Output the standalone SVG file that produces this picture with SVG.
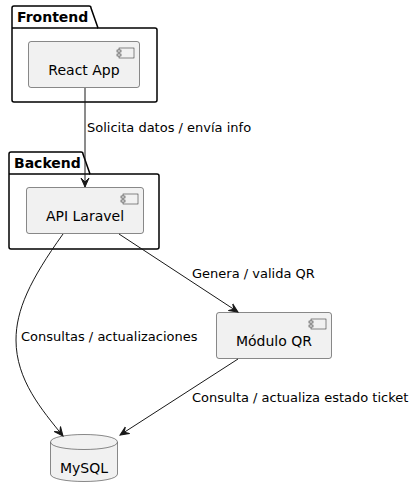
<svg xmlns="http://www.w3.org/2000/svg" width="414" height="497" viewBox="0 0 414 497">
<defs>
<style>
.pkg{fill:none;stroke:#000;stroke-width:1.5}
.comp{fill:#F1F1F1;stroke:#181818;stroke-width:0.5}
.icon{fill:#F1F1F1;stroke:#181818;stroke-width:0.5}
.plbl{font-family:"DejaVu Sans",sans-serif;font-size:14px;font-weight:bold;fill:#000}
.clbl{font-family:"DejaVu Sans",sans-serif;font-size:14px;fill:#000}
.elbl{font-family:"DejaVu Sans",sans-serif;font-size:13px;fill:#000}
.edge{fill:none;stroke:#181818;stroke-width:1}
</style>
<marker id="ah" viewBox="0 0 10 10" refX="9" refY="5" markerWidth="10" markerHeight="10" markerUnits="userSpaceOnUse" orient="auto">
<path d="M0,1 L9,5 L0,9 L4,5 Z" fill="#181818" stroke="#181818" stroke-width="1"/>
</marker>
</defs>
<rect width="414" height="497" fill="#FFFFFF"/>
<g id="Frontend">
<path class="pkg" d="M14,6 L89,6 A2,2 0 0 1 91,8 L98,28 L155,28 A2,2 0 0 1 157,30 L157,100 A2,2 0 0 1 155,102 L14,102 A2,2 0 0 1 12,100 L12,8 A2,2 0 0 1 14,6 Z"/>
<line class="pkg" x1="12" y1="28" x2="98" y2="28"/>
<text class="plbl" x="17" y="22">Frontend</text>
</g>
<g id="Backend">
<path class="pkg" d="M11,152 L81,152 A2,2 0 0 1 83,154 L90,174 L157,174 A2,2 0 0 1 159,176 L159,247 A2,2 0 0 1 157,249 L11,249 A2,2 0 0 1 9,247 L9,154 A2,2 0 0 1 11,152 Z"/>
<line class="pkg" x1="9" y1="174" x2="90" y2="174"/>
<text class="plbl" x="14" y="168">Backend</text>
</g>
<g id="ReactApp">
<rect class="comp" x="28.5" y="41.5" width="111" height="46" rx="2.5"/>
<rect class="icon" x="119" y="48" width="15" height="10"/>
<rect class="icon" x="117" y="50" width="4" height="2"/>
<rect class="icon" x="117" y="54" width="4" height="2"/>
<text class="clbl" x="84" y="75" text-anchor="middle">React App</text>
</g>
<g id="APILaravel">
<rect class="comp" x="26.5" y="187.5" width="117" height="46" rx="2.5"/>
<rect class="icon" x="123" y="194" width="15" height="10"/>
<rect class="icon" x="121" y="196" width="4" height="2"/>
<rect class="icon" x="121" y="200" width="4" height="2"/>
<text class="clbl" x="85" y="221" text-anchor="middle">API Laravel</text>
</g>
<g id="ModuloQR">
<rect class="comp" x="216.5" y="312.5" width="115" height="46" rx="2.5"/>
<rect class="icon" x="311" y="319" width="15" height="10"/>
<rect class="icon" x="309" y="321" width="4" height="2"/>
<rect class="icon" x="309" y="325" width="4" height="2"/>
<text class="clbl" x="274" y="346" text-anchor="middle">Módulo QR</text>
</g>
<g id="MySQL">
<path class="comp" d="M50.5,442 C50.5,432 117.5,432 117.5,442 L117.5,474 C117.5,484 50.5,484 50.5,474 Z"/>
<path class="comp" fill="none" d="M50.5,442 C50.5,452 117.5,452 117.5,442"/>
<text class="clbl" x="84" y="473" text-anchor="middle">MySQL</text>
</g>
<g id="connectors">
<path class="edge" marker-end="url(#ah)" d="M85,88 L85,187"/>
<path class="edge" marker-end="url(#ah)" d="M63,234 C30,280 16,310 16,340 C16,380 42,410 63,436"/>
<path class="edge" marker-end="url(#ah)" d="M119,234 L238,312"/>
<path class="edge" marker-end="url(#ah)" d="M238,359 L120,435"/>
<text class="elbl" x="87" y="132">Solicita datos / envía info</text>
<text class="elbl" x="192" y="278">Genera / valida QR</text>
<text class="elbl" x="21" y="341">Consultas / actualizaciones</text>
<text class="elbl" x="192" y="402">Consulta / actualiza estado ticket</text>
</g>
</svg>
